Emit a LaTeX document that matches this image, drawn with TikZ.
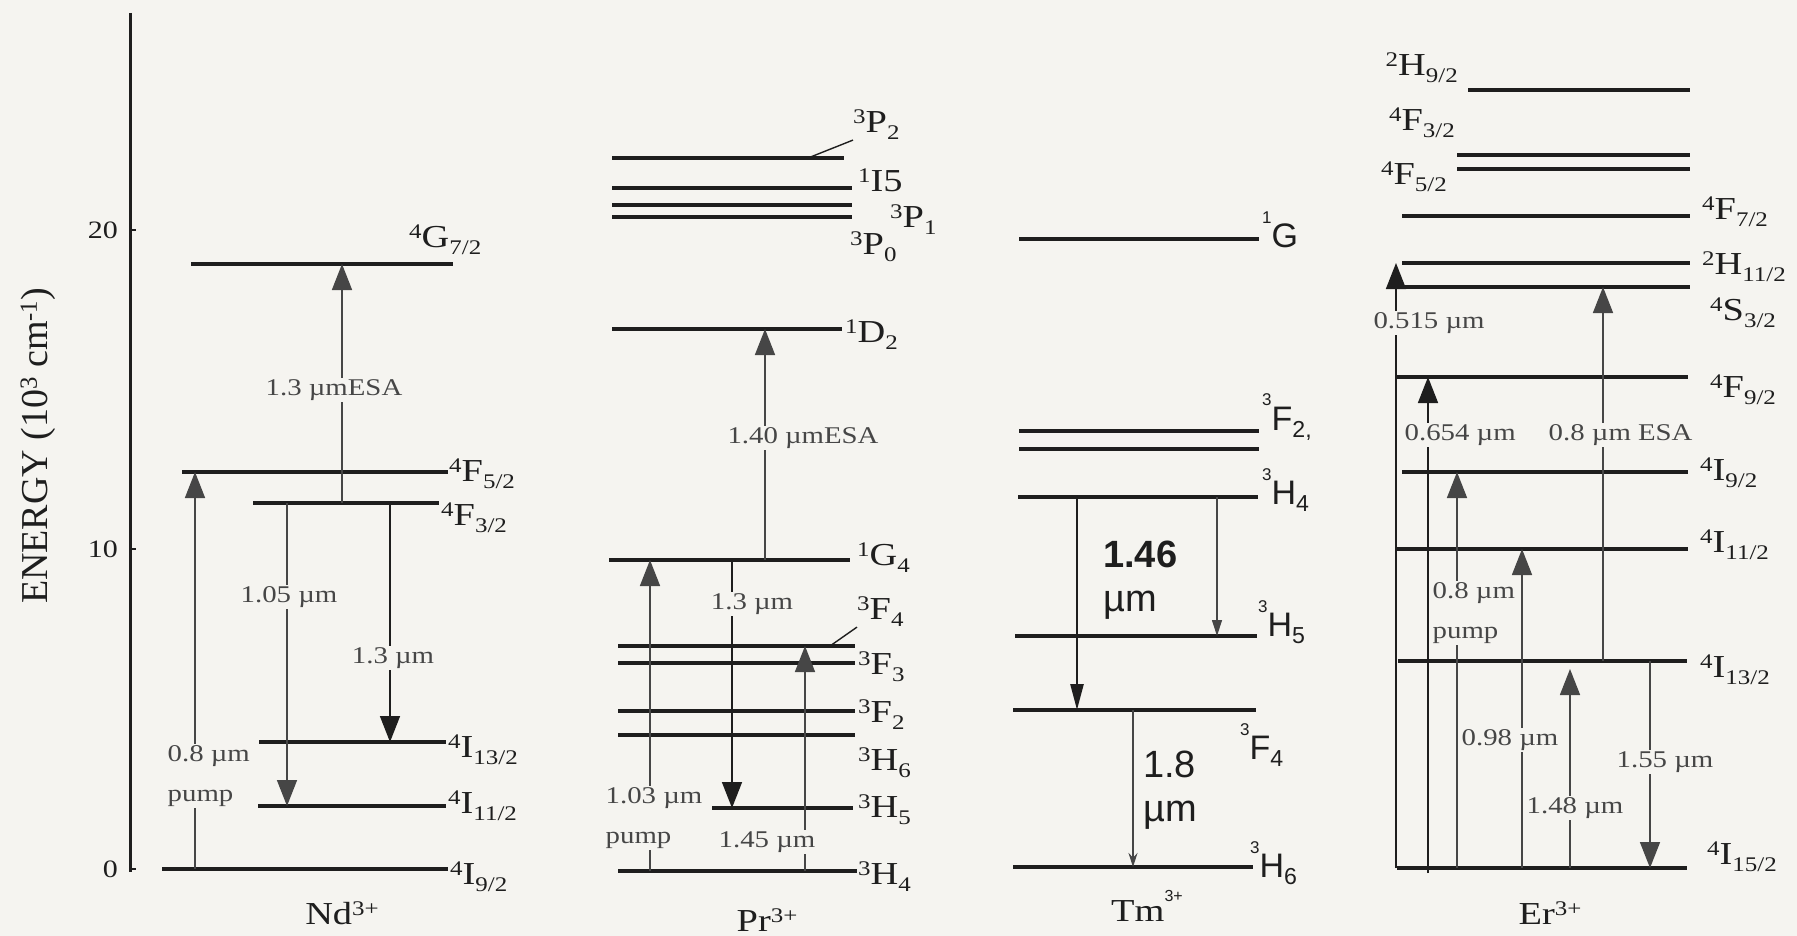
\documentclass[tikz,border=0pt]{standalone}
\usepackage{graphicx}
\usepackage{fontspec}
\setmainfont{Liberation Serif}[FakeStretch=1.2]
\newfontfamily\axisfont{Liberation Serif}
\newfontfamily\tmfont{Liberation Sans}
\usetikzlibrary{arrows.meta}
\definecolor{paper}{RGB}{245,244,240}
\definecolor{ink}{RGB}{30,30,30}
\definecolor{pencil}{RGB}{70,70,70}
\newcommand{\uptxt}[1]{\raisebox{0.28em}{\scalebox{0.65}{#1}}}
\newcommand{\dntxt}[1]{\raisebox{-0.22em}{\scalebox{0.65}{#1}}}
\newcommand{\tmup}[1]{\raisebox{0.72em}{\scalebox{0.5}{#1}}}
\newcommand{\tmdn}[1]{\raisebox{-0.2em}{\scalebox{0.68}{#1}}}

\begin{document}
\begin{tikzpicture}[x=1pt,y=-1pt,
lev/.style={line width=3.2pt,ink},
trans/.style={line width=1.6pt,pencil,-{Triangle[length=26pt,width=20pt]}},
lab/.style={anchor=west,inner sep=0pt,text=ink,font=\fontsize{32}{34}\selectfont},
wl/.style={fill=paper,inner sep=1.5pt,text=pencil,font=\fontsize{24}{40}\selectfont},
ion/.style={inner sep=0pt,text=ink,font=\fontsize{32}{34}\selectfont},
tmlab/.style={anchor=west,inner sep=0pt,text=ink,font=\tmfont\fontsize{34}{36}\selectfont},
tmtag/.style={anchor=west,inner sep=0pt,text=ink,align=left,font=\tmfont\fontsize{38}{44}\selectfont}]
\fill[paper] (0,0) rectangle (1797,936);

\draw[line width=3pt,ink] (130,13) coordinate (axtop) -- (130,872) coordinate (axbot);
\foreach \e/\y in {0/869,10/549,20/230} {
\draw[line width=1.2pt,ink] (130,\y) -- (136,\y);
\node[anchor=east,inner sep=0pt,text=ink,font=\fontsize{25}{27}\selectfont] (tick\e) at (118,\y) {\e};
}
\node[rotate=90,inner sep=0pt,text=ink,font=\axisfont\fontsize{38}{40}\selectfont] (energy) at (38,446) {ENERGY (10\uptxt{3} cm\uptxt{-1})};

\draw[lev] (191,264) coordinate (ndG72) -- (453,264);
\draw[lev] (182,472) coordinate (ndF52) -- (448,472);
\draw[lev] (253,503) coordinate (ndF32) -- (439,503);
\draw[lev] (259,742) coordinate (ndI132) -- (446,742);
\draw[lev] (258,806) coordinate (ndI112) -- (446,806);
\draw[lev] (162,869) coordinate (ndI92) -- (448,869);
\node[lab] (ndG72-l) at (409,240) {\uptxt{4}G\dntxt{7/2}};
\node[lab] (ndF52-l) at (449,474) {\uptxt{4}F\dntxt{5/2}};
\node[lab] (ndF32-l) at (441,518) {\uptxt{4}F\dntxt{3/2}};
\node[lab] (ndI132-l) at (448,750) {\uptxt{4}I\dntxt{13/2}};
\node[lab] (ndI112-l) at (448,806) {\uptxt{4}I\dntxt{11/2}};
\node[lab] (ndI92-l) at (450,877) {\uptxt{4}I\dntxt{9/2}};
\draw[trans] (342,0 |- ndF32) -- (342,0 |- ndG72);
\draw[trans] (195,0 |- ndI92) -- (195,0 |- ndF52);
\draw[trans] (287,0 |- ndF32) -- (287,0 |- ndI112);
\draw[trans,ink] (390,0 |- ndF32) -- (390,0 |- ndI132);
\node[wl] (nd-esa) at (334,390) {1.3 µmESA};
\node[wl,anchor=west,align=left] (nd-pump) at (166,776) {0.8 µm\\pump};
\node[wl] (nd-105) at (289,597) {1.05 µm};
\node[wl] (nd-13) at (393,658) {1.3 µm};
\node[ion] (nd-ion) at (342,913) {Nd\uptxt{3+}};

\draw[lev] (612,158) coordinate (prP2) -- (844,158);
\draw[lev] (612,188) coordinate (prI5) -- (852,188);
\draw[lev] (612,205) coordinate (prP1) -- (852,205);
\draw[lev] (612,217) coordinate (prP0) -- (852,217);
\draw[lev] (612,329) coordinate (prD2) -- (842,329);
\draw[lev] (609,560) coordinate (prG4) -- (850,560);
\draw[lev] (618,646) coordinate (prF4) -- (855,646);
\draw[lev] (618,663) coordinate (prF3) -- (855,663);
\draw[lev] (618,711) coordinate (prF2) -- (855,711);
\draw[lev] (618,735) coordinate (prH6) -- (855,735);
\draw[lev] (712,808) coordinate (prH5) -- (853,808);
\draw[lev] (618,871) coordinate (prH4) -- (857,871);
\node[lab] (prP2-l) at (853,125) {\uptxt{3}P\dntxt{2}};
\node[lab] (prI5-l) at (858,180) {\uptxt{1}I5};
\node[lab] (prP1-l) at (890,220) {\uptxt{3}P\dntxt{1}};
\node[lab] (prP0-l) at (850,247) {\uptxt{3}P\dntxt{0}};
\node[lab] (prD2-l) at (845,335) {\uptxt{1}D\dntxt{2}};
\node[lab] (prG4-l) at (857,558) {\uptxt{1}G\dntxt{4}};
\node[lab] (prF4-l) at (857,612) {\uptxt{3}F\dntxt{4}};
\node[lab] (prF3-l) at (858,667) {\uptxt{3}F\dntxt{3}};
\node[lab] (prF2-l) at (858,715) {\uptxt{3}F\dntxt{2}};
\node[lab] (prH6-l) at (858,763) {\uptxt{3}H\dntxt{6}};
\node[lab] (prH5-l) at (858,810) {\uptxt{3}H\dntxt{5}};
\node[lab] (prH4-l) at (858,877) {\uptxt{3}H\dntxt{4}};
\draw[line width=1.4pt,ink] (808,0 |- prP2) -- (prP2-l.south west);
\draw[line width=1.4pt,ink] (830,0 |- prF4) -- (prF4-l.south west);
\draw[trans] (765,0 |- prG4) -- (765,0 |- prD2);
\draw[trans] (650,0 |- prH4) -- (650,0 |- prG4);
\draw[trans,ink] (732,0 |- prG4) -- (732,0 |- prH5);
\draw[trans] (805,0 |- prH4) -- (805,0 |- prF4);
\node[wl] (pr-esa) at (803,438) {1.40 µmESA};
\node[wl,anchor=west,align=left] (pr-pump) at (604,818) {1.03 µm\\pump};
\node[wl] (pr-13) at (752,604) {1.3 µm};
\node[wl] (pr-145) at (767,842) {1.45 µm};
\node[ion] (pr-ion) at (767,920) {Pr\uptxt{3+}};

\draw[lev] (1019,239) coordinate (tmG) -- (1259,239);
\draw[lev] (1019,431) coordinate (tmF2) -- (1259,431);
\draw[lev] (1019,449) coordinate (tmF3) -- (1259,449);
\draw[lev] (1018,497) coordinate (tmH4) -- (1258,497);
\draw[lev] (1015,636) coordinate (tmH5) -- (1257,636);
\draw[lev] (1013,710) coordinate (tmF4) -- (1256,710);
\draw[lev] (1013,867) coordinate (tmH6) -- (1253,867);
\node[tmlab] (tmG-l) at (1262,230) {\tmup{1}G};
\node[tmlab] (tmF2-l) at (1262,417) {\tmup{3}F\tmdn{2,}};
\node[tmlab] (tmH4-l) at (1262,490) {\tmup{3}H\tmdn{4}};
\node[tmlab] (tmH5-l) at (1258,622) {\tmup{3}H\tmdn{5}};
\node[tmlab] (tmF4-l) at (1240,745) {\tmup{3}F\tmdn{4}};
\node[tmlab] (tmH6-l) at (1250,863) {\tmup{3}H\tmdn{6}};
\draw[line width=2.6pt,ink,-{Triangle[length=26pt,width=13pt]}] (1077,0 |- tmH4) -- (1077,0 |- tmF4);
\draw[line width=1.2pt,pencil,-{Triangle[length=16pt,width=10pt]}] (1217,0 |- tmH4) -- (1217,0 |- tmH5);
\draw[line width=1.2pt,pencil,-{Stealth[length=14pt,width=9pt]}] (1133,0 |- tmF4) -- (1133,0 |- tmH6);
\node[tmtag] (tm-146) at (1103,580) {\textbf{1.46}\\µm};
\node[tmtag] (tm-18) at (1143,790) {1.8\\µm};
\node[ion] (tm-ion) at (1147,906) {Tm\raisebox{0.6em}{\scalebox{0.5}{\tmfont 3+}}};

\draw[lev] (1468,90) coordinate (erH92) -- (1690,90);
\draw[lev] (1457,155) coordinate (erF32) -- (1690,155);
\draw[lev] (1457,169) coordinate (erF52) -- (1690,169);
\draw[lev] (1402,216) coordinate (erF72) -- (1690,216);
\draw[lev] (1402,263) coordinate (erH112) -- (1690,263);
\draw[lev] (1397,287) coordinate (erS32) -- (1690,287);
\draw[lev] (1397,377) coordinate (erF92) -- (1688,377);
\draw[lev] (1402,472) coordinate (erI92) -- (1688,472);
\draw[lev] (1397,549) coordinate (erI112) -- (1688,549);
\draw[lev] (1398,661) coordinate (erI132) -- (1687,661);
\draw[lev] (1397,868) coordinate (erI152) -- (1687,868);
\node[lab,anchor=east] (erH92-l) at (1458,68) {\uptxt{2}H\dntxt{9/2}};
\node[lab,anchor=east] (erF32-l) at (1455,123) {\uptxt{4}F\dntxt{3/2}};
\node[lab,anchor=east] (erF52-l) at (1447,177) {\uptxt{4}F\dntxt{5/2}};
\node[lab] (erF72-l) at (1702,212) {\uptxt{4}F\dntxt{7/2}};
\node[lab] (erH112-l) at (1702,267) {\uptxt{2}H\dntxt{11/2}};
\node[lab] (erS32-l) at (1710,313) {\uptxt{4}S\dntxt{3/2}};
\node[lab] (erF92-l) at (1710,390) {\uptxt{4}F\dntxt{9/2}};
\node[lab] (erI92-l) at (1700,473) {\uptxt{4}I\dntxt{9/2}};
\node[lab] (erI112-l) at (1700,545) {\uptxt{4}I\dntxt{11/2}};
\node[lab] (erI132-l) at (1700,670) {\uptxt{4}I\dntxt{13/2}};
\node[lab] (erI152-l) at (1707,857) {\uptxt{4}I\dntxt{15/2}};
\draw[trans,ink] (1396,0 |- erI152) -- (1396,0 |- erH112);
\draw[trans,ink] (1428,873) -- (1428,0 |- erF92);
\draw[trans] (1603,0 |- erI132) -- (1603,0 |- erS32);
\draw[trans] (1457,0 |- erI152) -- (1457,0 |- erI92);
\draw[trans] (1522,0 |- erI152) -- (1522,0 |- erI112);
\draw[trans,shorten >=8pt] (1570,0 |- erI152) -- (1570,0 |- erI132);
\draw[trans] (1650,0 |- erI132) -- (1650,0 |- erI152);
\node[wl] (er-515) at (1429,323) {0.515 µm};
\node[wl,anchor=west] (er-654) at (1403,435) {0.654 µm};
\node[wl,anchor=west] (er-esa) at (1547,435) {0.8 µm ESA};
\node[wl,anchor=west,align=left] (er-pump) at (1431,613) {0.8 µm\\pump};
\node[wl,anchor=west] (er-098) at (1460,740) {0.98 µm};
\node[wl,anchor=west] (er-148) at (1525,808) {1.48 µm};
\node[wl,anchor=west] (er-155) at (1615,762) {1.55 µm};
\node[ion] (er-ion) at (1550,913) {Er\uptxt{3+}};
\end{tikzpicture}
\end{document}
